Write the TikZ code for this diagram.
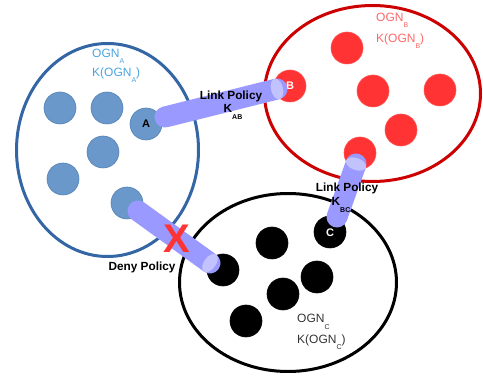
\documentclass[tikz,border=0pt]{standalone}
\usepackage{fontspec}
\setmainfont{Liberation Sans}
\usetikzlibrary{calc,shapes.geometric}
\definecolor{ablue}{HTML}{3465A4}
\definecolor{dotblue}{HTML}{6B98CB}
\definecolor{dotblueedge}{HTML}{5581B8}
\definecolor{bred}{HTML}{CC0000}
\definecolor{dotred}{HTML}{FF3333}
\definecolor{tubecol}{HTML}{9999FF}
\definecolor{tubecap}{HTML}{C2C2FF}
\definecolor{labA}{HTML}{4AA3DF}
\definecolor{labB}{HTML}{FF6666}
\definecolor{labC}{HTML}{333333}
\definecolor{xred}{HTML}{FF3333}
\newcommand\sbs[1]{\raisebox{-1ex}{\fontsize{7}{7}\selectfont #1}}
\newcommand\tubeseg[2]{%
  \draw[line width=21pt, line cap=round, draw=tubecol] (#1) -- (#2);
  \path let \p1=($(#2)-(#1)$), \n1={atan2(\y1,\x1)} in
    (#2) node[ellipse, fill=tubecap, inner sep=0pt, minimum width=12pt, minimum height=21pt, rotate=\n1] {};
}
\begin{document}
\begin{tikzpicture}[x=1pt,y=-1pt,
  dot/.style={circle, minimum size=32pt, inner sep=0pt, line width=0.6pt},
  bdot/.style={dot, fill=dotblue, draw=dotblueedge},
  rdot/.style={dot, fill=dotred, draw=dotred!85!white},
  kdot/.style={dot, fill=black, draw=black},
  grp/.style={ellipse, line width=3pt, inner sep=0pt, fill=none},
  lbl/.style={font=\fontsize{12}{13}\selectfont, anchor=west, inner sep=0pt},
  pol/.style={font=\bfseries\fontsize{11.8}{13}\selectfont, inner sep=0pt},
  dotlbl/.style={font=\bfseries\fontsize{11}{12}\selectfont, inner sep=0pt},
]
\useasboundingbox (0,0) rectangle (483,377);
% groups
\node[grp, draw=ablue, minimum width=182pt, minimum height=213pt] (GA) at (107.5,150) {};
\node[grp, draw=bred, minimum width=216pt, minimum height=176pt] (GB) at (372.5,93.5) {};
\node[grp, draw=black, minimum width=217pt, minimum height=178pt] (GC) at (288,282.5) {};
% blue dots
\node[bdot] (a1) at (60,108) {};
\node[bdot] (a2) at (107,108) {};
\node[bdot] (A) at (146,124) {};
\node[bdot] (a3) at (103,152) {};
\node[bdot] (a4) at (63,179) {};
\node[bdot] (a5) at (127,203) {};
% red dots
\node[rdot] (b1) at (347,48) {};
\node[rdot] (B) at (290,86) {};
\node[rdot] (b2) at (373,91) {};
\node[rdot] (b3) at (440,90) {};
\node[rdot] (b4) at (401,130) {};
\node[rdot] (b5) at (360,153) {};
% black dots
\node[kdot] (C) at (330,232) {};
\node[kdot] (c1) at (272,243) {};
\node[kdot] (c2) at (223,270) {};
\node[kdot] (c3) at (317,277) {};
\node[kdot] (c4) at (283,294) {};
\node[kdot] (c5) at (246,321) {};
% dot letters
\node[dotlbl] (Alab) at (A) {A};
\node[dotlbl, text=white] (Blab) at (290,86) {B};
\node[dotlbl, text=white] (Clab) at (330,233) {C};
% tubes
\coordinate (ab1) at (165,117);
\coordinate (ab2) at (277,89);
\coordinate (bc1) at (337,217);
\coordinate (bc2) at (356,164);
\coordinate (d1) at (138,211);
\coordinate (d2) at (210,263);
\tubeseg{ab1}{ab2}
\tubeseg{bc1}{bc2}
\tubeseg{d1}{d2}
% group labels
\node[lbl, text=labA] (ogna) at (92,56) {OGN\sbs{A}};
\node[lbl, text=labA] (koa) at (92,75) {K(OGN\sbs{A})};
\node[lbl, text=labB] (ognb) at (376,20) {OGN\sbs{B}};
\node[lbl, text=labB] (kob) at (376,41) {K(OGN\sbs{B})};
\node[lbl, text=labC] (ognc) at (297,322) {OGN\sbs{C}};
\node[lbl, text=labC] (koc) at (297,342) {K(OGN\sbs{C})};
% policy labels
\node[pol] (lp1) at (231,96) {Link Policy};
\node[pol] (k1) at (233,112) {K\sbs{AB}};
\node[pol] (lp2) at (347,188) {Link Policy};
\node[pol] (k2) at (341,205) {K\sbs{BC}};
\node[pol] (dp) at (142,267) {Deny Policy};
% deny cross
\node[text=xred, font=\bfseries\fontsize{40}{40}\selectfont, inner sep=0pt] (X) at (177,239) {X};
\end{tikzpicture}
\end{document}
